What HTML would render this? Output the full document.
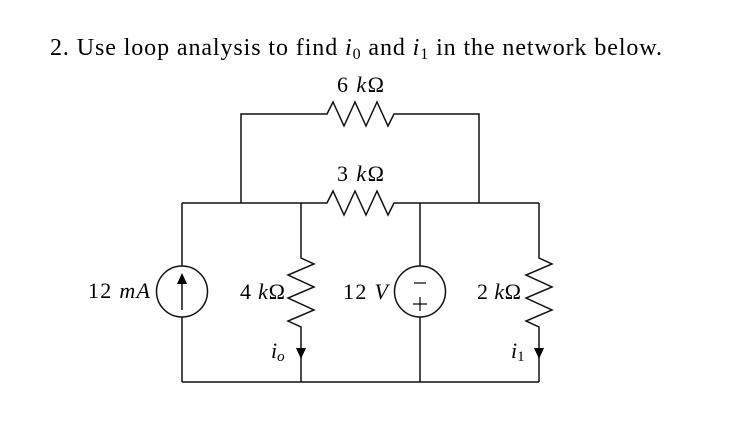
<!DOCTYPE html>
<html><head><meta charset="utf-8"><style>
html,body{margin:0;padding:0;background:#fff;}
svg{display:block;}
text{font-family:"Liberation Serif","DejaVu Serif",serif;fill:#000;}
.i{font-style:italic;}
</style></head><body>
<svg width="742" height="438" viewBox="0 0 742 438" xmlns="http://www.w3.org/2000/svg">
<text x="50" y="55" font-size="24" textLength="612" lengthAdjust="spacing">2.  Use loop analysis to find <tspan class="i">i</tspan><tspan font-size="16" dy="4">0</tspan><tspan dy="-4"> and </tspan><tspan class="i">i</tspan><tspan font-size="16" dy="4">1</tspan><tspan dy="-4"> in the network below.</tspan></text>
<g fill="none" stroke="#111" stroke-width="1.5" stroke-linejoin="miter">
<polyline points="241,203 241,114 327,114 333,102 344,126 355,102 366,126 377,102 388,126 394,114 479,114 479,203"/>
<polyline points="182,203 327,203 333,191 344,215 355,191 366,215 377,191 388,215 394,203 539,203"/>
<line x1="182" y1="203" x2="182" y2="266"/>
<line x1="182" y1="317" x2="182" y2="382"/>
<circle cx="182" cy="291.5" r="25.5"/>
<line x1="182" y1="310" x2="182" y2="280"/>
<polyline points="301,203 301,258 314,264 288,275 314,287 288,298 314,310 288,321 301,327 301,382"/>
<line x1="420" y1="203" x2="420" y2="266"/>
<line x1="420" y1="317" x2="420" y2="382"/>
<circle cx="420" cy="291.5" r="25.5"/>
<polyline points="539,203 539,258 552,264 526,275 552,287 526,298 552,310 526,321 539,327 539,382"/>
<line x1="182" y1="382" x2="539" y2="382"/>
</g>
<polygon points="182,273 177,284 187,284" fill="#000"/>
<polygon points="296,348 306,348 301,359" fill="#000"/>
<polygon points="534,348 544,348 539,359" fill="#000"/>
<g stroke="#000" stroke-width="1.2">
<line x1="414" y1="283" x2="426" y2="283"/>
<line x1="413" y1="304" x2="427" y2="304"/>
<line x1="420" y1="297" x2="420" y2="311"/>
</g>
<text x="88" y="298" font-size="22" textLength="62" lengthAdjust="spacing">12 <tspan class="i">mA</tspan></text>
<text x="240" y="299" font-size="22" textLength="45" lengthAdjust="spacing">4 <tspan class="i">k</tspan>Ω</text>
<text x="343" y="299" font-size="22" textLength="45" lengthAdjust="spacing">12 <tspan class="i">V</tspan></text>
<text x="477" y="299" font-size="22" textLength="44" lengthAdjust="spacing">2 <tspan class="i">k</tspan>Ω</text>
<text x="337" y="92" font-size="22" textLength="47" lengthAdjust="spacing">6 <tspan class="i">k</tspan>Ω</text>
<text x="337" y="181" font-size="22" textLength="47" lengthAdjust="spacing">3 <tspan class="i">k</tspan>Ω</text>
<text x="271" y="358" font-size="22" class="i">i<tspan font-size="15" dy="3">o</tspan></text>
<text x="511" y="358" font-size="22" class="i">i<tspan font-size="15" dy="3" font-style="normal">1</tspan></text>
</svg>
</body></html>
